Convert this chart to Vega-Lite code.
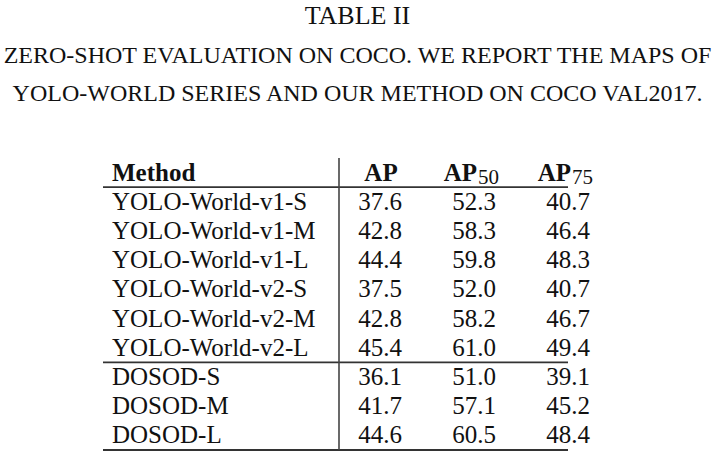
{
  "$schema": "https://vega.github.io/schema/vega-lite/v6.json",
  "width": 282,
  "height": 292,
  "autosize": {"type": "none"},
  "padding": {"left": 286, "top": 158, "right": 147, "bottom": 7},
  "background": "white",
  "config": {"view": {"stroke": null}, "font": "Liberation Serif"},
  "title": {
    "text": "TABLE II",
    "subtitle": ["ZERO-SHOT EVALUATION ON COCO. WE REPORT THE MAPS OF", "YOLO-WORLD SERIES AND OUR METHOD ON COCO VAL2017."],
    "font": "Liberation Serif",
    "fontSize": 26,
    "fontWeight": "normal",
    "color": "#111111",
    "subtitleFont": "Liberation Serif",
    "subtitleFontSize": 24,
    "subtitleColor": "#111111",
    "subtitleLineHeight": 38,
    "subtitlePadding": 15,
    "anchor": "middle",
    "frame": "group",
    "dx": -69.5,
    "offset": 51
  },
  "datasets": {
    "results": [
      {"method": "YOLO-World-v1-S", "AP": 37.6, "AP50": 52.3, "AP75": 40.7},
      {"method": "YOLO-World-v1-M", "AP": 42.8, "AP50": 58.3, "AP75": 46.4},
      {"method": "YOLO-World-v1-L", "AP": 44.4, "AP50": 59.8, "AP75": 48.3},
      {"method": "YOLO-World-v2-S", "AP": 37.5, "AP50": 52.0, "AP75": 40.7},
      {"method": "YOLO-World-v2-M", "AP": 42.8, "AP50": 58.2, "AP75": 46.7},
      {"method": "YOLO-World-v2-L", "AP": 45.4, "AP50": 61.0, "AP75": 49.4},
      {"method": "DOSOD-S", "AP": 36.1, "AP50": 51.0, "AP75": 39.1},
      {"method": "DOSOD-M", "AP": 41.7, "AP50": 57.1, "AP75": 45.2},
      {"method": "DOSOD-L", "AP": 44.6, "AP50": 60.5, "AP75": 48.4}
    ],
    "header": [
      {"method": "Method", "col": "Method", "label": "Method", "sub": ""},
      {"method": "Method", "col": "AP", "label": "AP", "sub": ""},
      {"method": "Method", "col": "AP50", "label": "AP", "sub": "50"},
      {"method": "Method", "col": "AP75", "label": "AP", "sub": "75"}
    ],
    "hrules": [
      {"method": "Method"},
      {"method": "YOLO-World-v2-L"},
      {"method": "DOSOD-L"}
    ],
    "vrules": [
      {"col": "AP"}
    ]
  },
  "layer": [
    {
      "data": {"name": "hrules"},
      "mark": {"type": "rule", "color": "#333333", "strokeWidth": 1.8},
      "encoding": {
        "x": {
          "datum": "Method", "type": "nominal",
          "scale": {"type": "point", "domain": ["Method", "AP", "AP50", "AP75"], "padding": 0},
          "axis": null
        },
        "xOffset": {"value": -183},
        "x2": {"datum": "AP75"},
        "x2Offset": {"value": 52},
        "y": {
          "field": "method", "type": "nominal", "bandPosition": 1,
          "scale": {"type": "band", "paddingInner": 0, "paddingOuter": 0,
            "domain": ["Method", "YOLO-World-v1-S", "YOLO-World-v1-M", "YOLO-World-v1-L", "YOLO-World-v2-S", "YOLO-World-v2-M", "YOLO-World-v2-L", "DOSOD-S", "DOSOD-M", "DOSOD-L"]},
          "axis": null
        }
      }
    },
    {
      "data": {"name": "vrules"},
      "mark": {"type": "rule", "color": "#444444", "strokeWidth": 1.6, "xOffset": -41},
      "encoding": {
        "x": {"field": "col", "type": "nominal", "axis": null}
      }
    },
    {
      "data": {"name": "header"},
      "transform": [{"filter": "datum.col === 'Method'"}],
      "mark": {"type": "text", "align": "left", "baseline": "middle", "dx": -174, "fontSize": 25, "fontWeight": "bold", "color": "#111111"},
      "encoding": {
        "x": {"field": "col", "type": "nominal", "axis": null},
        "y": {"field": "method", "type": "nominal", "axis": null},
        "text": {"field": "label"}
      }
    },
    {
      "data": {"name": "header"},
      "transform": [{"filter": "datum.col === 'AP'"}],
      "mark": {"type": "text", "align": "center", "baseline": "middle", "dx": 1, "fontSize": 25, "fontWeight": "bold", "color": "#111111"},
      "encoding": {
        "x": {"field": "col", "type": "nominal", "axis": null},
        "y": {"field": "method", "type": "nominal", "axis": null},
        "text": {"field": "label"}
      }
    },
    {
      "data": {"name": "header"},
      "transform": [{"filter": "datum.sub !== ''"}],
      "mark": {"type": "text", "align": "right", "baseline": "middle", "dx": 3, "fontSize": 25, "fontWeight": "bold", "color": "#111111"},
      "encoding": {
        "x": {"field": "col", "type": "nominal", "axis": null},
        "y": {"field": "method", "type": "nominal", "axis": null},
        "text": {"field": "label"}
      }
    },
    {
      "data": {"name": "header"},
      "transform": [{"filter": "datum.sub !== ''"}],
      "mark": {"type": "text", "align": "left", "baseline": "middle", "dx": 4, "dy": 5, "fontSize": 21, "fontWeight": "normal", "color": "#111111"},
      "encoding": {
        "x": {"field": "col", "type": "nominal", "axis": null},
        "y": {"field": "method", "type": "nominal", "axis": null},
        "text": {"field": "sub"}
      }
    },
    {
      "data": {"name": "results"},
      "mark": {"type": "text", "align": "left", "baseline": "middle", "dx": -174, "fontSize": 25, "color": "#111111"},
      "encoding": {
        "x": {"datum": "Method", "type": "nominal", "axis": null},
        "y": {"field": "method", "type": "nominal", "axis": null},
        "text": {"field": "method"}
      }
    },
    {
      "data": {"name": "results"},
      "transform": [{"fold": ["AP", "AP50", "AP75"], "as": ["col", "value"]}],
      "mark": {"type": "text", "align": "center", "baseline": "middle", "fontSize": 25, "color": "#111111"},
      "encoding": {
        "x": {"field": "col", "type": "nominal", "axis": null},
        "y": {"field": "method", "type": "nominal", "axis": null},
        "text": {"field": "value", "type": "quantitative", "format": ".1f"}
      }
    }
  ]
}
